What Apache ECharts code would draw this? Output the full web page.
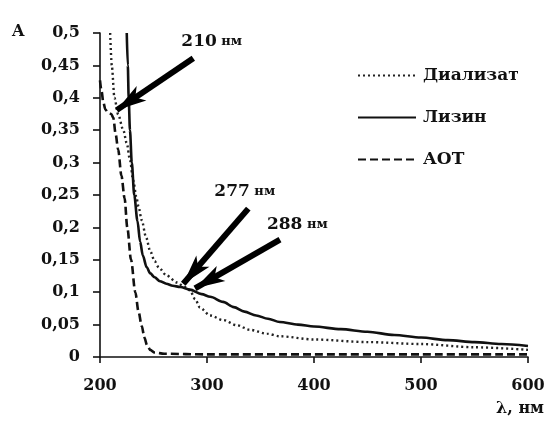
<!DOCTYPE html>
<html><head><meta charset="utf-8">
<script src="https://cdn.jsdelivr.net/npm/echarts@6/dist/echarts.min.js"></script>
<style>html,body{margin:0;padding:0;background:#fff}#c{width:556px;height:421px}</style>
</head><body><div id="c"></div>
<script>
// Dialysate (dotted)
const dialLambda = [209.5,211,213.5,217,221.8,225,228,231,234,236,239,243,247,251,255,262,272,278,284,289,293.5,303,315,328,340,356,368,400,450,500,550,600];
const dialValues = [0.5,0.45,0.40,0.374,0.35,0.33,0.304,0.273,0.247,0.232,0.211,0.185,0.163,0.148,0.138,0.126,0.115,0.109,0.103,0.089,0.076,0.064,0.057,0.049,0.042,0.036,0.032,0.027,0.023,0.020,0.015,0.011];
// Lysine (solid)
const lysLambda = [225,226,226.8,228,229.7,232,235,237.5,240,243.5,247,251,256,262,268,275,284,295,303,315,325,335,346,357,368,385,400,425,450,475,500,525,550,575,600];
const lysValues = [0.5,0.45,0.40,0.35,0.30,0.25,0.21,0.178,0.157,0.139,0.129,0.123,0.117,0.113,0.110,0.108,0.104,0.097,0.093,0.085,0.077,0.070,0.064,0.059,0.054,0.050,0.047,0.043,0.039,0.034,0.030,0.026,0.023,0.020,0.017];
// AOT (dashed)
const aotLambda = [200,201.5,203,205,207.5,210.5,212.5,214.5,217,220,223,225.5,229,233,236,239,241.5,244,247,251,260,300,400,500,600];
const aotValues = [0.427,0.41,0.394,0.382,0.377,0.375,0.369,0.345,0.32,0.28,0.245,0.2,0.15,0.1,0.07,0.048,0.03,0.018,0.011,0.007,0.005,0.004,0.004,0.004,0.004];

const seriesNames = ['Диализат','Лизин','АОТ'];
const xTicks = [200,300,400,500,600];
// annotation arrows: [lambda, value] of tail and head
const arrowTails = [[287.2,0.461],[338.6,0.229],[368.2,0.181]];
const arrowHeads = [[215.6,0.381],[277.8,0.113],[288.8,0.106]];
const annotNumbers = ['210','277','288'];
const annotPos = [[304.4,0.487],[335.3,0.255],[384.4,0.204]];

const zip = (a,b)=>a.map((v,i)=>[v,b[i]]);
const FONT = 'DejaVu Serif';
const chart = echarts.init(document.getElementById('c'), null, {renderer:'canvas'});
const axisLineStyle = {color:'#111', width:1.6};

chart.setOption({
  animation:false,
  backgroundColor:'#fff',
  grid:{left:100, right:28, top:33, bottom:64},
  legend:{
    data:seriesNames, orient:'vertical', left:352, top:62,
    itemWidth:58, itemHeight:17, itemGap:25,
    itemStyle:{color:'transparent', borderWidth:0, opacity:0},
    textStyle:{fontFamily:FONT, fontWeight:'bold', fontSize:17, color:'#111', padding:[0,0,0,2]}
  },
  xAxis:{
    type:'value', min:200, max:600, interval:100,
    axisLine:{lineStyle:axisLineStyle}, axisTick:{show:true, length:6, lineStyle:axisLineStyle},
    splitLine:{show:false},
    axisLabel:{margin:21, fontFamily:FONT, fontWeight:'bold', fontSize:16, color:'#111',
      formatter:v=>xTicks.includes(v)?String(v):''}
  },
  yAxis:{
    type:'value', min:0, max:0.5, interval:0.05,
    axisLine:{show:true, lineStyle:axisLineStyle}, axisTick:{show:true, length:7, lineStyle:axisLineStyle},
    splitLine:{show:false},
    axisLabel:{margin:20, fontFamily:FONT, fontWeight:'bold', fontSize:16, color:'#111',
      formatter:v=>String(parseFloat(v.toFixed(2))).replace('.',',')}
  },
  graphic:[
    {type:'text', left:12, top:24, style:{text:'A', font:'bold 16px "DejaVu Serif"', fill:'#111'}},
    {type:'text', right:12, top:401, style:{text:'λ, нм', font:'bold 16px "DejaVu Serif"', fill:'#111'}}
  ],
  series:[
    {name:seriesNames[0], type:'line', data:zip(dialLambda,dialValues), symbol:'none', showSymbol:false,
     smooth:0.3, smoothMonotone:'x', clip:true, itemStyle:{color:'#222'},
     lineStyle:{color:'#222', width:2.4, type:[2,3], cap:'butt'}},
    {name:seriesNames[1], type:'line', data:zip(lysLambda,lysValues), symbol:'none', showSymbol:false,
     smooth:0.3, smoothMonotone:'x', clip:true, itemStyle:{color:'#111'},
     lineStyle:{color:'#111', width:2.6, type:'solid'},
     markLine:{
       silent:true, animation:false, symbol:['none','arrow'], symbolSize:[13,30],
       lineStyle:{color:'#000', width:6, type:'solid'},
       label:{show:false},
       data:arrowTails.map((t,i)=>[{coord:t},{coord:arrowHeads[i]}])
     },
     markPoint:{
       silent:true, animation:false, symbol:'circle', symbolSize:0,
       label:{show:true, position:'inside', formatter:p=>'{a|'+p.name+'}{b| нм}',
         rich:{a:{fontFamily:FONT, fontWeight:'bold', fontSize:17, color:'#111'},
               b:{fontFamily:FONT, fontWeight:'bold', fontSize:13, color:'#111'}}},
       data:annotPos.map((c,i)=>({name:annotNumbers[i], coord:c}))
     }},
    {name:seriesNames[2], type:'line', data:zip(aotLambda,aotValues), symbol:'none', showSymbol:false,
     smooth:0.3, smoothMonotone:'x', clip:true, itemStyle:{color:'#111'},
     lineStyle:{color:'#111', width:2.6, type:[8,4], cap:'butt'}}
  ]
});
</script></body></html>
